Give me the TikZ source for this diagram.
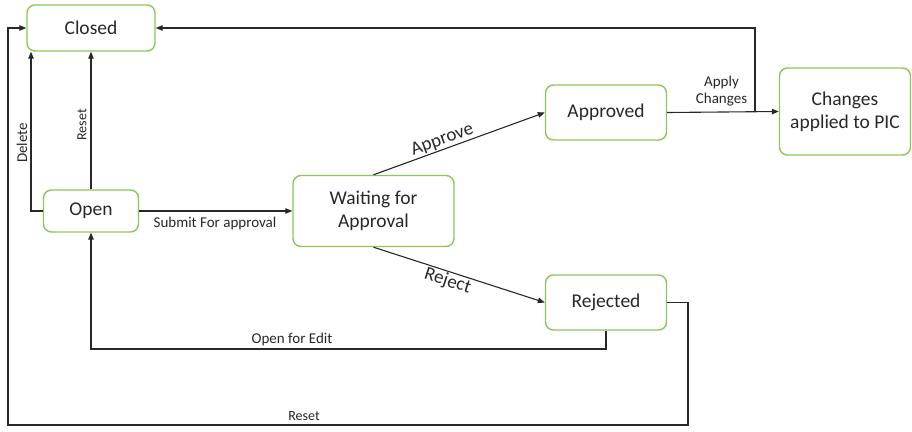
\documentclass[tikz,border=0pt]{standalone}
\usepackage{fontspec}
\setmainfont{Carlito}
\usetikzlibrary{arrows.meta,calc}
\definecolor{boxgreen}{RGB}{140,198,90}
\definecolor{ink}{RGB}{40,40,40}
\tikzset{
  state/.style={draw=boxgreen, line width=1.4pt, rounded corners=8pt, fill=white,
    text=ink, align=center, font=\fontsize{19.5}{23}\selectfont, inner sep=0pt},
  arr/.style={draw=ink, line width=1.1pt, -{Triangle[length=7pt,width=5.5pt]}},
  lbl/.style={text=ink, font=\fontsize{15}{17}\selectfont, inner sep=1pt},
  biglbl/.style={text=ink, font=\fontsize{19}{21}\selectfont, inner sep=1pt}
}
\begin{document}
\begin{tikzpicture}[x=1pt,y=1pt]
\useasboundingbox (0,0) rectangle (912,-431);
\node[state, minimum width=128pt, minimum height=46pt] (closed) at (91,-28) {Closed};
\node[state, minimum width=95pt, minimum height=42pt] (open) at (91,-211) {Open};
\node[state, minimum width=161pt, minimum height=71pt] (wait) at (373.5,-211) {Waiting for\\Approval};
\node[state, minimum width=121pt, minimum height=55pt] (appr) at (606,-112.5) {Approved};
\node[state, minimum width=131pt, minimum height=87pt] (chg) at (845,-111.5) {Changes\\applied to PIC};
\node[state, minimum width=121pt, minimum height=55pt] (rej) at (606,-302.5) {Rejected};

% Reset (open -> closed)
\draw[arr] (open.north) -- (closed.south);
\node[lbl, rotate=90, font=\fontsize{14}{16}\selectfont] (lreset1) at (82,-125) {Reset};
% Delete
\coordinate (dl) at (31,-211);
\draw[arr] (open.west) -- (dl) -- (closed.south -| dl);
\node[lbl, rotate=90] (ldel) at (22,-143) {Delete};
% Submit
\draw[arr] (open.east) -- (wait.west);
\node[lbl] (lsub) at (215,-223) {Submit For approval};
% Approve
\draw[arr] (wait.north) -- (appr.west) node[biglbl, pos=0.42, above, sloped] (lappr) {Approve};
% Reject
\draw[arr] (wait.south) -- (rej.west) node[biglbl, pos=0.45, below, sloped] (lrej) {Reject};
% Apply changes
\draw[arr] (appr.east) -- (chg.west);
\node[lbl, align=center, font=\fontsize{15}{17}\selectfont] (lapply) at (721.5,-91) {Apply\\Changes};
% return to closed
\path (appr.east) -- (chg.west) coordinate[pos=0.787] (j);
\draw[arr] (j) |- (closed.east);
% Open for edit
\coordinate (oe) at (606,-349);
\draw[arr] (rej.south) -- (oe) -| (open.south);
\node[lbl] (loe) at (292,-339) {Open for Edit};
% Reset (rejected -> closed)
\coordinate (r1) at (688,-425);
\coordinate (r2) at (8,-425);
\draw[arr] (rej.east) -| (r1) -- (r2) |- (closed.west);
\node[lbl, font=\fontsize{14}{16}\selectfont] (lreset2) at (304,-416) {Reset};
\end{tikzpicture}
\end{document}
